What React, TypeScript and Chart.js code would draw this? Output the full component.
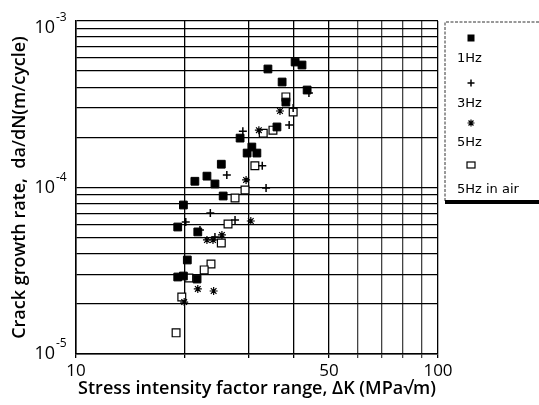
import React, { useEffect, useRef } from 'react';
import { Chart, registerables } from 'chart.js';

Chart.register(...registerables);

// ---- data ----
const xGridValues = [10, 20, 30, 40, 50, 60, 70, 80, 90, 100];
const xLabelValues = [10, 50, 100];
const yGridValues = [
  1e-5, 2e-5, 3e-5, 4e-5, 5e-5, 6e-5, 7e-5, 8e-5, 9e-5,
  1e-4, 2e-4, 3e-4, 4e-4, 5e-4, 6e-4, 7e-4, 8e-4, 9e-4, 1e-3,
];
const yLabelValues = [1e-5, 1e-4, 1e-3];
const yLabelExponents = ['-5', '-4', '-3'];

const seriesLabels = ['1Hz', '3Hz', '5Hz', '5Hz in air'];

const hz1K = [33.9, 40.3, 42.1, 37.1, 43.5, 38.0, 35.9, 28.4, 30.6, 29.7, 31.6, 25.2, 23.0, 21.3, 24.2, 25.5, 19.8, 19.1, 21.7, 20.3, 19.1, 19.8, 21.6];
const hz1Rate = [5.15e-4, 5.67e-4, 5.44e-4, 4.30e-4, 3.85e-4, 3.26e-4, 2.31e-4, 1.98e-4, 1.75e-4, 1.61e-4, 1.61e-4, 1.38e-4, 1.17e-4, 1.09e-4, 1.05e-4, 8.89e-5, 7.85e-5, 5.79e-5, 5.41e-5, 3.67e-5, 2.90e-5, 2.94e-5, 2.82e-5];

const hz3K = [44.0, 39.8, 38.8, 28.9, 32.7, 26.1, 33.5, 27.5, 23.5, 20.1, 22.0, 24.2];
const hz3Rate = [3.69e-4, 3.00e-4, 2.37e-4, 2.18e-4, 1.35e-4, 1.19e-4, 9.93e-5, 6.38e-5, 7.03e-5, 6.21e-5, 5.56e-5, 5.05e-5];

const hz5K = [36.6, 32.0, 29.5, 30.4, 23.0, 23.9, 25.3, 21.7, 24.0, 19.9];
const hz5Rate = [2.88e-4, 2.21e-4, 1.11e-4, 6.29e-5, 4.84e-5, 4.84e-5, 5.19e-5, 2.46e-5, 2.39e-5, 2.05e-5];

const airK = [38.0, 39.8, 35.0, 32.9, 31.2, 29.3, 27.5, 26.3, 25.2, 23.6, 22.6, 20.5, 19.6, 18.9];
const airRate = [3.50e-4, 2.84e-4, 2.21e-4, 2.12e-4, 1.35e-4, 9.66e-5, 8.65e-5, 6.04e-5, 4.64e-5, 3.47e-5, 3.20e-5, 2.86e-5, 2.20e-5, 1.34e-5];

const toPoints = (xs: number[], ys: number[]) => xs.map((x, i) => ({ x, y: ys[i] }));

const TITLE_FONT = { family: '"Open Sans", sans-serif', size: 18, weight: 600 as const };

function drawMarker(ctx: CanvasRenderingContext2D, kind: number, x: number, y: number) {
  ctx.save();
  ctx.strokeStyle = '#000';
  ctx.fillStyle = '#000';
  if (kind === 0) {
    ctx.fillRect(x - 3.5, y - 3.5, 7, 7);
  } else if (kind === 1) {
    ctx.lineWidth = 1.5;
    ctx.beginPath();
    ctx.moveTo(x - 3.5, y); ctx.lineTo(x + 3.5, y);
    ctx.moveTo(x, y - 3.5); ctx.lineTo(x, y + 3.5);
    ctx.stroke();
  } else if (kind === 2) {
    ctx.lineWidth = 1.2;
    ctx.beginPath();
    const r = 3.5;
    ctx.moveTo(x - r, y); ctx.lineTo(x + r, y);
    ctx.moveTo(x, y - r); ctx.lineTo(x, y + r);
    const d = r * Math.SQRT1_2;
    ctx.moveTo(x - d, y - d); ctx.lineTo(x + d, y + d);
    ctx.moveTo(x - d, y + d); ctx.lineTo(x + d, y - d);
    ctx.stroke();
  } else {
    ctx.lineWidth = 1.2;
    ctx.fillStyle = '#fff';
    ctx.fillRect(x - 4, y - 3, 8, 6);
    ctx.strokeRect(x - 4, y - 3, 8, 6);
  }
  ctx.restore();
}

const customPlugin = {
  id: 'customLabels',
  afterDraw(chart: any) {
    const ctx: CanvasRenderingContext2D = chart.ctx;
    const xs = chart.scales.x;
    const ys = chart.scales.y;
    const area = chart.chartArea;
    ctx.save();
    ctx.fillStyle = '#000';
    // x tick labels
    ctx.font = '17px "Open Sans", sans-serif';
    ctx.textAlign = 'center';
    ctx.textBaseline = 'middle';
    xLabelValues.forEach((v) => {
      ctx.fillText(String(v), xs.getPixelForValue(v), area.bottom + 17);
    });
    // y tick labels with exponent
    yLabelValues.forEach((v, i) => {
      const py = Math.max(ys.getPixelForValue(v), area.top + 7);
      ctx.font = '18px "Open Sans", sans-serif';
      ctx.textAlign = 'right';
      ctx.textBaseline = 'middle';
      ctx.fillText('10', area.left - 21, py);
      ctx.font = '12px "Open Sans", sans-serif';
      ctx.textAlign = 'left';
      ctx.fillText(yLabelExponents[i], area.left - 20, py - 10);
    });

    // legend box
    const lx = area.right + 7;
    const ly = area.top + 1;
    const lb = area.top + 180;
    ctx.strokeStyle = '#333';
    ctx.lineWidth = 1;
    ctx.setLineDash([3, 1.5]);
    ctx.beginPath();
    ctx.moveTo(lx, lb);
    ctx.lineTo(lx, ly);
    ctx.lineTo(chart.width, ly);
    ctx.stroke();
    ctx.setLineDash([]);
    ctx.fillStyle = '#000';
    ctx.fillRect(lx, lb - 1, chart.width - lx, 4);

    const markerY = [38, 83, 123, 165];
    const labelY = [59, 104, 143, 190];
    ctx.font = '13px "DejaVu Sans", sans-serif';
    ctx.textAlign = 'left';
    ctx.textBaseline = 'middle';
    seriesLabels.forEach((lab, i) => {
      drawMarker(ctx, i, lx + 26, markerY[i]);
      ctx.fillStyle = '#000';
      ctx.fillText(lab, lx + 12, labelY[i]);
    });
    ctx.restore();
  },
};

export default function App() {
  const ref = useRef<HTMLCanvasElement>(null);
  useEffect(() => {
    document.body.style.margin = '0';
    if (!ref.current) return;
    const chart = new Chart(ref.current, {
      type: 'scatter',
      data: {
        datasets: [
          {
            label: seriesLabels[0],
            data: toPoints(hz1K, hz1Rate),
            pointStyle: 'rect',
            pointRadius: 5.5,
            backgroundColor: '#000',
            borderColor: '#000',
            borderWidth: 1,
          },
          {
            label: seriesLabels[1],
            data: toPoints(hz3K, hz3Rate),
            pointStyle: 'cross',
            pointRadius: 4,
            backgroundColor: '#000',
            borderColor: '#000',
            borderWidth: 1.5,
          },
          {
            label: seriesLabels[2],
            data: toPoints(hz5K, hz5Rate),
            pointStyle: 'star',
            pointRadius: 4,
            backgroundColor: '#000',
            borderColor: '#000',
            borderWidth: 1.2,
          },
          {
            label: seriesLabels[3],
            data: toPoints(airK, airRate),
            pointStyle: 'rect',
            pointRadius: 5.5,
            backgroundColor: '#fff',
            borderColor: '#000',
            borderWidth: 1.2,
          },
        ],
      },
      options: {
        animation: false,
        responsive: false,
        layout: { padding: { left: 0, right: 101, top: 21, bottom: 0 } },
        plugins: { legend: { display: false }, tooltip: { enabled: false } },
        scales: {
          x: {
            type: 'logarithmic',
            min: 10,
            max: 100,
            afterBuildTicks: (s: any) => {
              s.ticks = xGridValues.map((v) => ({ value: v }));
            },
            afterFit: (s: any) => {
              s.height = 51;
            },
            ticks: { display: false },
            grid: {
              color: (c: any) => (c.tick && c.tick.value > 50 && c.tick.value < 100 ? '#444' : '#000'),
              lineWidth: 1.3,
              tickLength: 4,
            },
            border: { color: '#000', width: 1.5 },
            title: {
              display: true,
              text: 'Stress intensity factor range, \u0394K (MPa\u221Am)',
              color: '#000',
              font: TITLE_FONT,
              padding: { top: 0, bottom: 5 },
            },
          },
          y: {
            type: 'logarithmic',
            min: 1e-5,
            max: 1e-3,
            afterBuildTicks: (s: any) => {
              s.ticks = yGridValues.map((v) => ({ value: v }));
            },
            afterFit: (s: any) => {
              s.width = 76;
            },
            ticks: { display: false },
            grid: { color: '#000', lineWidth: 1.3, tickLength: 0 },
            border: { color: '#000', width: 1.5 },
            title: {
              display: true,
              text: 'Crack growth rate,  da/dN(m/cycle)',
              color: '#000',
              font: TITLE_FONT,
              padding: { top: 9, bottom: 0 },
            },
          },
        },
      },
      plugins: [customPlugin],
    });
    return () => chart.destroy();
  }, []);
  return <canvas ref={ref} width={539} height={405} style={{ display: 'block' }} />;
}
